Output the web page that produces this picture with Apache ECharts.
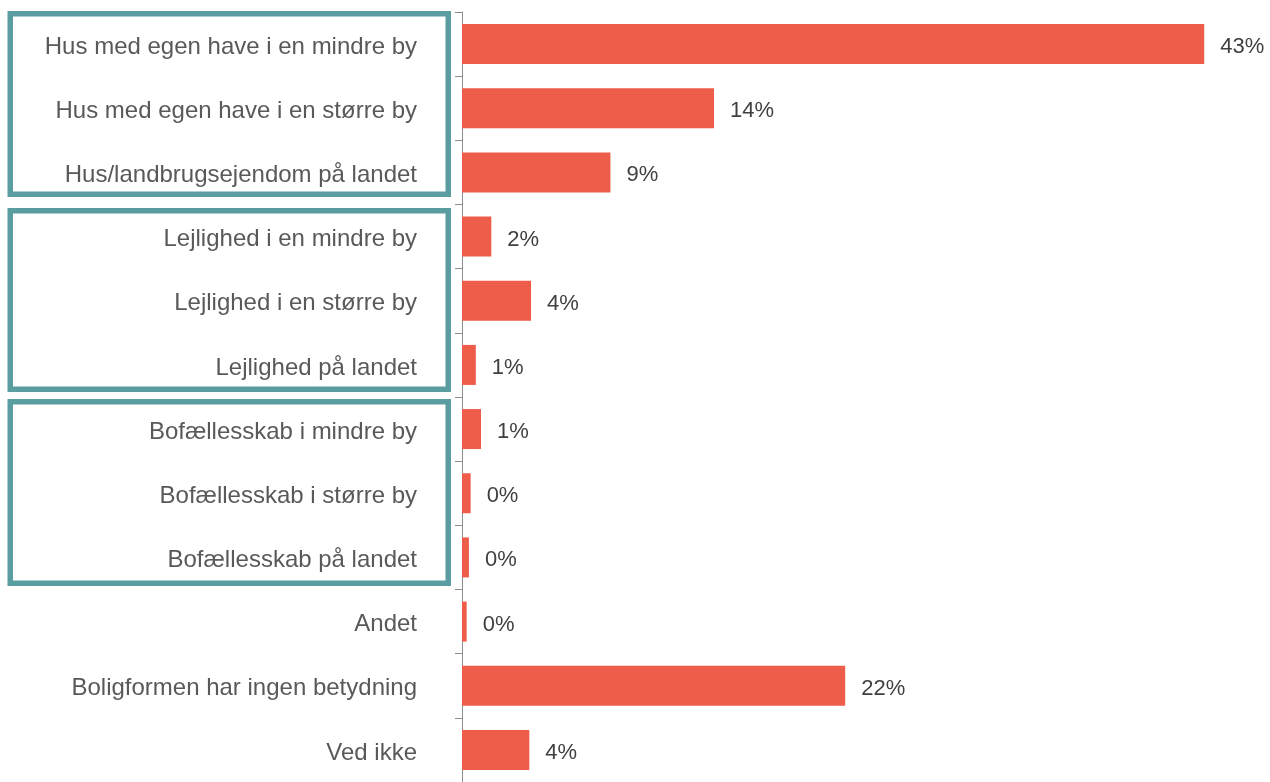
<!DOCTYPE html>
<html>
<head>
<meta charset="utf-8">
<script src="https://cdn.jsdelivr.net/npm/echarts@6/dist/echarts.min.js"></script>
<style>
  html, body { margin: 0; padding: 0; background: #fff; }
  #chart { width: 1270px; height: 782px; }
</style>
</head>
<body>
<div id="chart"></div>
<script>
// kategorier, øverst først
var categories = [
  'Hus med egen have i en mindre by',
  'Hus med egen have i en større by',
  'Hus/landbrugsejendom på landet',
  'Lejlighed i en mindre by',
  'Lejlighed i en større by',
  'Lejlighed på landet',
  'Bofællesskab i mindre by',
  'Bofællesskab i større by',
  'Bofællesskab på landet',
  'Andet',
  'Boligformen har ingen betydning',
  'Ved ikke'
];
// bar-længder (procent)
var values = [43.0, 14.6, 8.6, 1.7, 4.0, 0.8, 1.1, 0.5, 0.4, 0.27, 22.2, 3.9];
// de trykte etiketter
var valueLabels = ['43%', '14%', '9%', '2%', '4%', '1%', '1%', '0%', '0%', '0%', '22%', '4%'];

var teal = '#5A9DA1';
var font = 'Liberation Sans, Arial, sans-serif';

var myChart = echarts.init(document.getElementById('chart'));
myChart.setOption({
  animation: false,
  grid: {
    left: 462,
    right: 14,
    top: 12,
    bottom: -3
  },
  xAxis: {
    type: 'value',
    min: 0,
    max: 46,
    show: false
  },
  yAxis: {
    type: 'category',
    inverse: true,
    data: categories,
    axisLine: {
      show: true,
      lineStyle: { color: '#8C8C8C', width: 1 }
    },
    axisTick: {
      show: true,
      length: 7,
      lineStyle: { color: '#8C8C8C' }
    },
    axisLabel: {
      margin: 45,
      formatter: function (v) { return '{a|' + v + '}'; },
      rich: {
        a: {
          fontSize: 24,
          fontFamily: font,
          color: '#595959',
          padding: [6, 0, 0, 0]
        }
      }
    }
  },
  series: [
    {
      type: 'bar',
      data: values,
      barWidth: 40,
      itemStyle: { color: '#EE5C4A' },
      label: {
        show: true,
        position: 'right',
        distance: 16,
        offset: [0, 3],
        fontSize: 22,
        fontFamily: font,
        color: '#404040',
        formatter: function (p) {
          return valueLabels[p.dataIndex];
        }
      }
    }
  ],
  // rammer om grupperne
  graphic: [
    { type: 'rect', shape: { x: 10.25, y: 13.75, width: 438, height: 180.5 },
      style: { fill: 'none', stroke: teal, lineWidth: 5.5 } },
    { type: 'rect', shape: { x: 10.25, y: 210.75, width: 438, height: 178.5 },
      style: { fill: 'none', stroke: teal, lineWidth: 5.5 } },
    { type: 'rect', shape: { x: 10.25, y: 401.75, width: 438, height: 181.5 },
      style: { fill: 'none', stroke: teal, lineWidth: 5.5 } }
  ]
});
</script>
</body>
</html>
